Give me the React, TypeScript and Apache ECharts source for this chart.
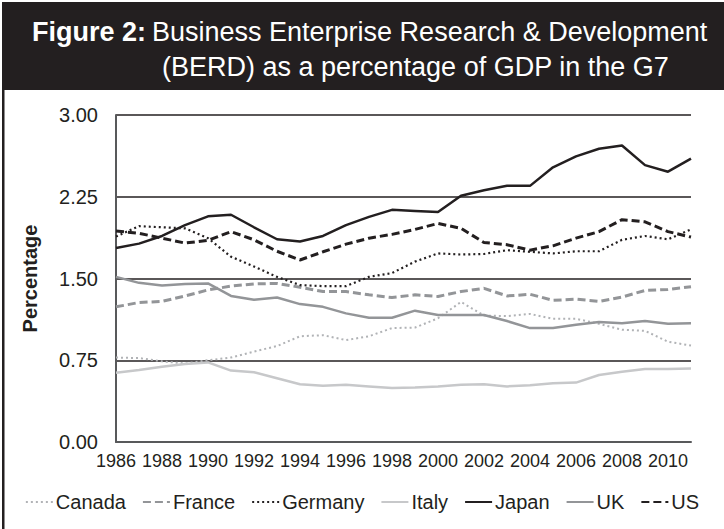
import React, { useEffect, useRef } from "react";
import * as echarts from "echarts";

const years = ["1986","1987","1988","1989","1990","1991","1992","1993","1994","1995","1996","1997","1998","1999","2000","2001","2002","2003","2004","2005","2006","2007","2008","2009","2010","2011"];

const canada = [0.775, 0.77, 0.74, 0.72, 0.75, 0.775, 0.83, 0.88, 0.97, 0.98, 0.935, 0.97, 1.045, 1.05, 1.135, 1.285, 1.16, 1.155, 1.175, 1.13, 1.13, 1.085, 1.03, 1.02, 0.92, 0.885];
const france = [1.24, 1.28, 1.29, 1.34, 1.395, 1.43, 1.45, 1.455, 1.42, 1.38, 1.38, 1.35, 1.325, 1.35, 1.335, 1.38, 1.41, 1.34, 1.355, 1.30, 1.31, 1.29, 1.33, 1.39, 1.40, 1.425];
const germany = [1.885, 1.98, 1.97, 1.96, 1.87, 1.70, 1.61, 1.515, 1.44, 1.43, 1.43, 1.515, 1.55, 1.655, 1.73, 1.72, 1.725, 1.76, 1.745, 1.73, 1.75, 1.75, 1.855, 1.89, 1.86, 1.95];
const italy = [0.635, 0.66, 0.69, 0.715, 0.73, 0.655, 0.64, 0.585, 0.53, 0.515, 0.525, 0.51, 0.495, 0.50, 0.51, 0.525, 0.53, 0.51, 0.52, 0.54, 0.545, 0.615, 0.645, 0.67, 0.67, 0.675];
const japan = [1.78, 1.82, 1.89, 1.99, 2.07, 2.085, 1.97, 1.86, 1.84, 1.89, 1.99, 2.065, 2.13, 2.12, 2.11, 2.26, 2.31, 2.35, 2.35, 2.52, 2.62, 2.69, 2.72, 2.54, 2.48, 2.60];
const uk = [1.515, 1.46, 1.435, 1.45, 1.455, 1.34, 1.305, 1.325, 1.265, 1.24, 1.18, 1.14, 1.14, 1.205, 1.165, 1.165, 1.165, 1.11, 1.045, 1.045, 1.075, 1.10, 1.09, 1.11, 1.085, 1.09];
const us = [1.935, 1.915, 1.87, 1.825, 1.85, 1.93, 1.855, 1.75, 1.67, 1.745, 1.815, 1.87, 1.905, 1.95, 2.005, 1.96, 1.83, 1.81, 1.76, 1.80, 1.87, 1.93, 2.04, 2.02, 1.93, 1.88];

const titleBold = "Figure 2:";
const titleLine1 = "Business Enterprise Research & Development";
const titleLine2 = "(BERD) as a percentage of GDP in the G7";
const yAxisName = "Percentage";

const FONT = "'Liberation Sans', Arial, Helvetica, sans-serif";
const INK = "#231f20";

export default function App() {
  const ref = useRef<HTMLDivElement>(null);
  useEffect(() => {
    if (!ref.current) return;
    const chart = echarts.init(ref.current, undefined, { renderer: "svg" });
    const mk = (name: string, data: number[], color: string, width: number, type: any) => ({
      name,
      type: "line",
      data,
      symbol: "none",
      symbolSize: 0,
      showSymbol: false,
      lineStyle: { color, width, type },
      itemStyle: { color },
      emphasis: { disabled: true },
    });
    chart.setOption({
      animation: false,
      backgroundColor: "#ffffff",
      textStyle: { fontFamily: FONT },
      grid: { left: 116, right: 33, top: 115, bottom: 87, containLabel: false, outerBoundsMode: "none" },
      graphic: [
        { type: "rect", shape: { x: 2, y: 2, width: 722, height: 88 }, style: { fill: INK }, silent: true },
        { type: "rect", shape: { x: 2, y: 90, width: 2.5, height: 439 }, style: { fill: INK }, silent: true },
        {
          type: "text",
          x: 32,
          y: 18,
          style: { text: titleBold, fill: "#ffffff", font: `bold 27px ${FONT}`, verticalAlign: "top" },
          silent: true,
        },
        {
          type: "text",
          x: 152,
          y: 18,
          style: { text: titleLine1, fill: "#ffffff", font: `27px ${FONT}`, verticalAlign: "top" },
          silent: true,
        },
        {
          type: "text",
          x: 162,
          y: 53,
          style: { text: titleLine2, fill: "#ffffff", font: `27px ${FONT}`, verticalAlign: "top" },
          silent: true,
        },
      ],
      legend: {
        top: 487,
        left: "center",
        itemWidth: 27,
        itemHeight: 14,
        itemGap: 16,
        itemStyle: { opacity: 0 },
        textStyle: { fontSize: 20, color: INK, fontFamily: FONT, padding: [0, 0, 0, -2] },
        data: ["Canada", "France", "Germany", "Italy", "Japan", "UK", "US"],
      },
      xAxis: {
        type: "category",
        data: years,
        boundaryGap: false,
        axisLine: { show: true, lineStyle: { color: "#58595b", width: 2 } },
        axisTick: { show: false },
        axisLabel: { interval: 1, fontSize: 18, color: INK, margin: 10, fontFamily: FONT },
        splitLine: { show: false },
      },
      yAxis: {
        type: "value",
        min: 0,
        max: 3,
        interval: 0.75,
        name: yAxisName,
        nameLocation: "middle",
        nameGap: 76,
        nameTextStyle: { fontSize: 20, fontWeight: "bold", color: INK, fontFamily: FONT },
        axisLine: { show: true, lineStyle: { color: "#58595b", width: 2 } },
        axisTick: { show: false },
        axisLabel: { fontSize: 20, color: INK, margin: 18, fontFamily: FONT, formatter: (v: number) => v.toFixed(2) },
        splitLine: { show: true, lineStyle: { color: INK, width: 1.5 } },
      },
      series: [
        mk("Canada", canada, "#b1b3b6", 2, [2, 3]),
        mk("France", france, "#939598", 3, [8, 4]),
        mk("Germany", germany, INK, 2.2, [2, 3]),
        mk("Italy", italy, "#c7c8ca", 2.5, "solid"),
        mk("Japan", japan, INK, 2.5, "solid"),
        mk("UK", uk, "#939598", 2.5, "solid"),
        mk("US", us, INK, 3, [8, 4]),
      ],
    });
    return () => chart.dispose();
  }, []);
  return <div ref={ref} style={{ position: "fixed", left: 0, top: 0, width: 724, height: 529 }} />;
}
